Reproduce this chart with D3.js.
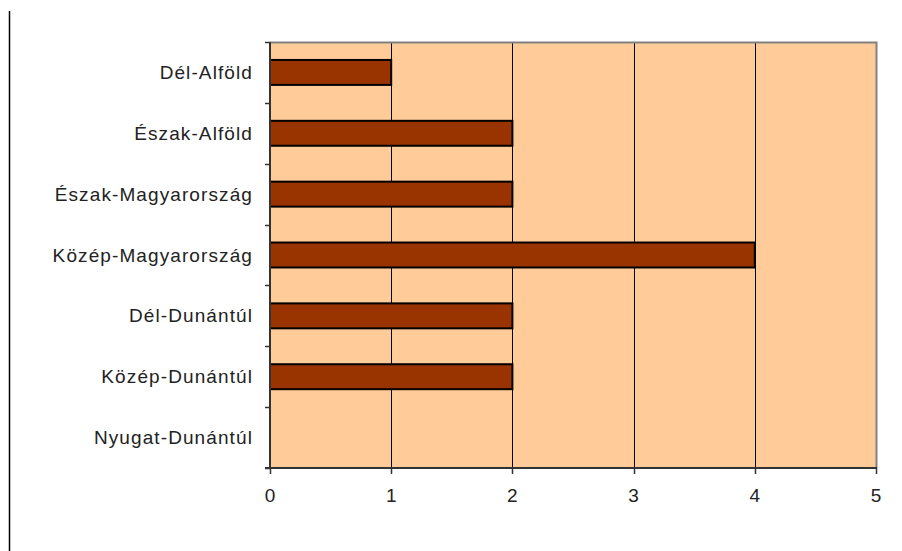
<!DOCTYPE html>
<html>
<head>
<meta charset="utf-8">
<script src="https://cdn.jsdelivr.net/npm/d3@7"></script>
<style>
  html, body { margin: 0; padding: 0; background: #fff; }
  svg { display: block; }
  text { font-family: "Liberation Sans", Arial, sans-serif; fill: #222; }
</style>
</head>
<body>
<svg id="chart" width="902" height="551"></svg>
<script>
// Regions and their counts
const regions = ["Dél-Alföld", "Észak-Alföld", "Észak-Magyarország", "Közép-Magyarország", "Dél-Dunántúl", "Közép-Dunántúl", "Nyugat-Dunántúl"];
const counts = [1, 2, 2, 4, 2, 2, 0];
const xTicks = [0, 1, 2, 3, 4, 5];

const svg = d3.select("#chart");
const plot = { left: 270, top: 42, right: 876, bottom: 468 };

const x = d3.scaleLinear().domain([0, 5]).range([plot.left, plot.right]);
const y = d3.scaleBand().domain(regions).range([plot.top, plot.bottom]).paddingInner(0.59).paddingOuter(0.295);
const yBand = d3.scaleBand().domain(regions).range([plot.top, plot.bottom]);

// Left frame line
svg.append("line")
  .attr("x1", 9.5).attr("x2", 9.5).attr("y1", 11).attr("y2", 551)
  .attr("stroke", "#000").attr("stroke-width", 1.5);

// Plot background
svg.append("rect")
  .attr("x", plot.left).attr("y", plot.top)
  .attr("width", plot.right - plot.left).attr("height", plot.bottom - plot.top)
  .attr("fill", "#FFCC99");

// Vertical gridlines
svg.append("g").selectAll("line")
  .data(xTicks.filter(d => d > 0 && d < 5))
  .join("line")
  .attr("x1", d => Math.round(x(d)) + 0.5).attr("x2", d => Math.round(x(d)) + 0.5)
  .attr("y1", plot.top).attr("y2", plot.bottom)
  .attr("stroke", "#000").attr("stroke-width", 1);

// Top and right border
svg.append("path")
  .attr("d", `M${plot.left},${plot.top + 0.5} H${plot.right + 0.5} V${plot.bottom}`)
  .attr("fill", "none").attr("stroke", "#808080").attr("stroke-width", 2);

// Bars
svg.append("g").selectAll("rect")
  .data(regions.map((r, i) => ({ r, v: counts[i] })).filter(d => d.v > 0))
  .join("rect")
  .attr("x", x(0))
  .attr("y", d => y(d.r))
  .attr("width", d => x(d.v) - x(0))
  .attr("height", y.bandwidth())
  .attr("fill", "#993300")
  .attr("stroke", "#000").attr("stroke-width", 2);

// Y axis
const yAxis = svg.append("g");
yAxis.append("line")
  .attr("x1", plot.left).attr("x2", plot.left)
  .attr("y1", plot.top).attr("y2", plot.bottom)
  .attr("stroke", "#333").attr("stroke-width", 2);
const bounds = regions.map(r => yBand(r)).concat([plot.bottom]);
yAxis.selectAll("line.tick")
  .data(bounds)
  .join("line").attr("class", "tick")
  .attr("x1", plot.left - 5).attr("x2", plot.left)
  .attr("y1", d => Math.round(d) + 0.5).attr("y2", d => Math.round(d) + 0.5)
  .attr("stroke", "#333").attr("stroke-width", 1.5);
yAxis.selectAll("text")
  .data(regions)
  .join("text")
  .attr("x", plot.left - 17)
  .attr("y", d => yBand(d) + yBand.bandwidth() / 2)
  .attr("text-anchor", "end")
  .attr("dominant-baseline", "central")
  .attr("font-size", 19)
  .attr("letter-spacing", 1.1)
  .text(d => d);

// X axis
const xAxis = svg.append("g");
xAxis.append("line")
  .attr("x1", plot.left - 5).attr("x2", plot.right + 1)
  .attr("y1", plot.bottom).attr("y2", plot.bottom)
  .attr("stroke", "#333").attr("stroke-width", 2);
xAxis.selectAll("line.tick")
  .data(xTicks)
  .join("line").attr("class", "tick")
  .attr("x1", d => Math.round(x(d)) + 0.5).attr("x2", d => Math.round(x(d)) + 0.5)
  .attr("y1", plot.bottom).attr("y2", plot.bottom + 6)
  .attr("stroke", "#333").attr("stroke-width", 1.5);
xAxis.selectAll("text")
  .data(xTicks)
  .join("text")
  .attr("x", d => x(d))
  .attr("y", plot.bottom + 27)
  .attr("text-anchor", "middle")
  .attr("dominant-baseline", "central")
  .attr("font-size", 19)
  .text(d => d);
</script>
</body>
</html>
